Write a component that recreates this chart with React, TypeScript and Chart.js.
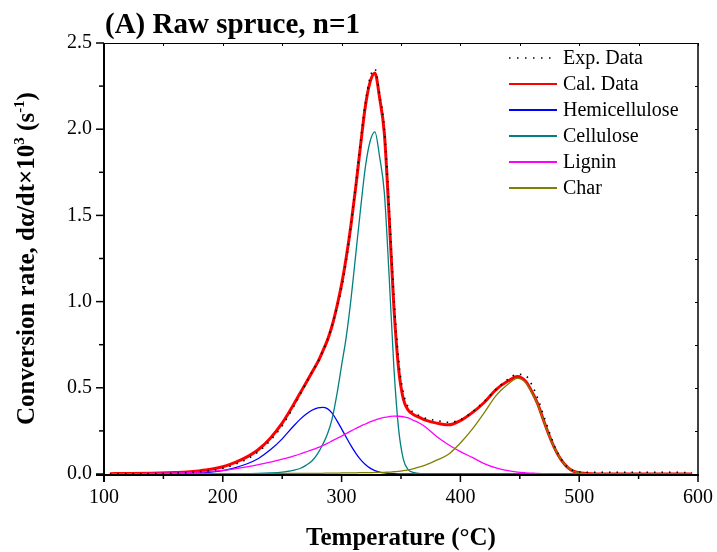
import React, { useEffect, useRef } from "react";
import { Chart, registerables } from "chart.js";

Chart.register(...registerables);

// ---------------- DATA ----------------
const temperature = [
  105, 120, 140, 160, 170, 180, 190, 200, 210, 220, 230, 240, 250, 255, 260, 265, 270, 275, 280, 284,
  288, 292, 296, 300, 304, 308, 312, 316, 320, 324, 328, 332, 336, 340, 344, 348, 352, 356, 360, 365,
  370, 380, 390, 400, 410, 420, 430, 440, 448, 455, 460, 465, 470, 475, 480, 485, 490, 495, 500, 510,
  520, 540, 560, 580, 595,
];

const expData = [
  0.0, 0.001, 0.002, 0.005, 0.008, 0.013, 0.02, 0.033, 0.055, 0.085, 0.13, 0.195, 0.28, 0.335, 0.395, 0.46, 0.525, 0.59, 0.65, 0.71,
  0.775, 0.86, 0.96, 1.08, 1.24, 1.45, 1.68, 1.93, 2.15, 2.3, 2.35, 2.2, 2.0, 1.55, 1.03, 0.66, 0.47, 0.39, 0.36, 0.34,
  0.325, 0.31, 0.3, 0.315, 0.36, 0.42, 0.49, 0.55, 0.578, 0.57, 0.52, 0.44, 0.34, 0.24, 0.15, 0.085, 0.04, 0.02, 0.012, 0.01,
  0.01, 0.01, 0.01, 0.01, 0.008,
];

const calData = [
  0.002, 0.003, 0.005, 0.009, 0.012, 0.018, 0.027, 0.042, 0.066, 0.098, 0.142, 0.208, 0.295, 0.35, 0.408, 0.468, 0.528, 0.589, 0.65, 0.71,
  0.775, 0.86, 0.97, 1.1, 1.26, 1.45, 1.67, 1.909, 2.133, 2.274, 2.326, 2.181, 1.974, 1.497, 0.97, 0.61, 0.434, 0.371, 0.347, 0.33,
  0.314, 0.295, 0.285, 0.31, 0.356, 0.415, 0.49, 0.539, 0.566, 0.537, 0.48, 0.408, 0.312, 0.219, 0.14, 0.08, 0.04, 0.017, 0.007, 0.001,
  0.0, 0.0, 0.0, 0.0, 0.0,
];

const hemicellulose = [
  0.0, 0.0, 0.001, 0.002, 0.003, 0.006, 0.011, 0.02, 0.036, 0.058, 0.09, 0.14, 0.204, 0.243, 0.281, 0.317, 0.347, 0.37, 0.384, 0.387,
  0.379, 0.353, 0.31, 0.262, 0.212, 0.163, 0.12, 0.083, 0.055, 0.034, 0.02, 0.011, 0.006, 0.003, 0.0015, 0.0005, 0.0, 0.0, 0.0, 0.0,
  0.0, 0.0, 0.0, 0.0, 0.0, 0.0, 0.0, 0.0, 0.0, 0.0, 0.0, 0.0, 0.0, 0.0, 0.0, 0.0, 0.0, 0.0, 0.0, 0.0,
  0.0, 0.0, 0.0, 0.0, 0.0,
];

const cellulose = [
  0.0, 0.0, 0.0, 0.0, 0.0, 0.0, 0.0, 0.0, 0.001, 0.002, 0.003, 0.006, 0.011, 0.016, 0.022, 0.032, 0.05, 0.075, 0.12, 0.17,
  0.23, 0.32, 0.46, 0.63, 0.8, 1.02, 1.28, 1.54, 1.78, 1.93, 1.985, 1.84, 1.63, 1.15, 0.62, 0.26, 0.085, 0.025, 0.01, 0.003,
  0.001, 0.0, 0.0, 0.0, 0.0, 0.0, 0.0, 0.0, 0.0, 0.0, 0.0, 0.0, 0.0, 0.0, 0.0, 0.0, 0.0, 0.0, 0.0, 0.0,
  0.0, 0.0, 0.0, 0.0, 0.0,
];

const lignin = [
  0.001, 0.002, 0.003, 0.006, 0.008, 0.011, 0.015, 0.021, 0.03, 0.041, 0.054, 0.069, 0.086, 0.095, 0.105, 0.116, 0.128, 0.14, 0.153, 0.165,
  0.178, 0.192, 0.206, 0.22, 0.235, 0.25, 0.264, 0.278, 0.29, 0.302, 0.312, 0.321, 0.328, 0.333, 0.336, 0.335, 0.332, 0.326, 0.313, 0.297,
  0.275, 0.218, 0.17, 0.13, 0.096, 0.06, 0.035, 0.019, 0.011, 0.007, 0.005, 0.003, 0.002, 0.001, 0.0, 0.0, 0.0, 0.0, 0.0, 0.0,
  0.0, 0.0, 0.0, 0.0, 0.0,
];

const charData = [
  0.0, 0.0, 0.001, 0.001, 0.001, 0.001, 0.001, 0.001, 0.002, 0.002, 0.002, 0.002, 0.003, 0.003, 0.003, 0.003, 0.003, 0.004, 0.004, 0.004,
  0.005, 0.005, 0.005, 0.006, 0.006, 0.007, 0.007, 0.008, 0.008, 0.008, 0.009, 0.009, 0.01, 0.011, 0.013, 0.015, 0.019, 0.024, 0.03, 0.04,
  0.05, 0.08, 0.115, 0.18, 0.26, 0.355, 0.455, 0.52, 0.555, 0.53, 0.475, 0.405, 0.31, 0.218, 0.14, 0.08, 0.04, 0.017, 0.007, 0.001,
  0.0, 0.0, 0.0, 0.0, 0.0,
];

const xMajorTicks = [100, 200, 300, 400, 500, 600];
const xMinorTicks = [150, 250, 350, 450, 550];
const yMajorTicks = [0, 0.5, 1.0, 1.5, 2.0, 2.5];
const yMinorTicks = [0.25, 0.75, 1.25, 1.75, 2.25];

const legendLabels = ["Exp. Data", "Cal. Data", "Hemicellulose", "Cellulose", "Lignin", "Char"];
const seriesColors = ["#000000", "#ff0000", "#0000ff", "#008080", "#ff00ff", "#808000"];

const titleText = "(A) Raw spruce, n=1";
const xTitleText = "Temperature (\u00B0C)";

const SERIF = "'Liberation Serif', 'Times New Roman', 'DejaVu Serif', serif";

// ---------------- DRAW HELPERS ----------------
type Part = { t: string; sup?: boolean };

function drawRich(ctx: CanvasRenderingContext2D, parts: Part[], size: number, supSize: number, supRise: number) {
  let w = 0;
  for (const p of parts) {
    ctx.font = `bold ${p.sup ? supSize : size}px ${SERIF}`;
    w += ctx.measureText(p.t).width;
  }
  let x = -w / 2;
  for (const p of parts) {
    ctx.font = `bold ${p.sup ? supSize : size}px ${SERIF}`;
    ctx.fillText(p.t, x, p.sup ? -supRise : 0);
    x += ctx.measureText(p.t).width;
  }
}

const decorPlugin = {
  id: "decor",
  afterDraw(chart: any) {
    const { ctx, chartArea: a, scales } = chart;
    const xs = scales.x;
    const ys = scales.y;
    ctx.save();
    ctx.strokeStyle = "#000";
    ctx.fillStyle = "#000";

    // top & right borders (thin)
    ctx.lineWidth = 1;
    ctx.beginPath();
    ctx.moveTo(a.left, a.top + 0.5);
    ctx.lineTo(a.right, a.top + 0.5);
    ctx.stroke();
    ctx.lineWidth = 1.5;
    ctx.beginPath();
    ctx.moveTo(a.right, a.top);
    ctx.lineTo(a.right, a.bottom);
    ctx.stroke();

    // inner ticks top/right
    ctx.lineWidth = 1;
    for (const v of [...xMajorTicks, ...xMinorTicks]) {
      const px = Math.round(xs.getPixelForValue(v)) + 0.5;
      ctx.beginPath();
      ctx.moveTo(px, a.top);
      ctx.lineTo(px, a.top + 3);
      ctx.stroke();
    }
    for (const v of [...yMajorTicks, ...yMinorTicks]) {
      const py = Math.round(ys.getPixelForValue(v)) + 0.5;
      ctx.beginPath();
      ctx.moveTo(a.right, py);
      ctx.lineTo(a.right - 3, py);
      ctx.stroke();
    }

    // left & bottom axes (thick)
    ctx.lineWidth = 2;
    ctx.beginPath();
    ctx.moveTo(a.left, a.top);
    ctx.lineTo(a.left, a.bottom + 8);
    ctx.stroke();
    ctx.beginPath();
    ctx.moveTo(a.left - 8, a.bottom + 1);
    ctx.lineTo(a.right + 1, a.bottom + 1);
    ctx.stroke();

    // outward ticks
    ctx.lineWidth = 1.5;
    for (const v of xMajorTicks) {
      const px = xs.getPixelForValue(v);
      ctx.beginPath();
      ctx.moveTo(px, a.bottom);
      ctx.lineTo(px, a.bottom + 8);
      ctx.stroke();
    }
    for (const v of xMinorTicks) {
      const px = xs.getPixelForValue(v);
      ctx.beginPath();
      ctx.moveTo(px, a.bottom);
      ctx.lineTo(px, a.bottom + 5);
      ctx.stroke();
    }
    for (const v of yMajorTicks) {
      const py = ys.getPixelForValue(v);
      ctx.beginPath();
      ctx.moveTo(a.left, py);
      ctx.lineTo(a.left - 8, py);
      ctx.stroke();
    }
    for (const v of yMinorTicks) {
      const py = ys.getPixelForValue(v);
      ctx.beginPath();
      ctx.moveTo(a.left, py);
      ctx.lineTo(a.left - 5, py);
      ctx.stroke();
    }

    // title
    ctx.font = `bold 29px ${SERIF}`;
    ctx.textAlign = "left";
    ctx.textBaseline = "alphabetic";
    ctx.fillText(titleText, 105, 33);

    // x title
    ctx.font = `bold 25px ${SERIF}`;
    ctx.textAlign = "center";
    ctx.fillText(xTitleText, 401, 545);

    // y title
    ctx.save();
    ctx.translate(34, (a.top + a.bottom) / 2);
    ctx.rotate(-Math.PI / 2);
    ctx.textAlign = "left";
    drawRich(
      ctx,
      [
        { t: "Conversion rate, d\u03B1/dt\u00D710" },
        { t: "3", sup: true },
        { t: " (s" },
        { t: "-1", sup: true },
        { t: ")" },
      ],
      25,
      15,
      10
    );
    ctx.restore();

    // legend
    ctx.font = `20px ${SERIF}`;
    ctx.textAlign = "left";
    ctx.textBaseline = "middle";
    legendLabels.forEach((label, i) => {
      const ly = 58 + i * 26;
      ctx.strokeStyle = seriesColors[i];
      ctx.lineWidth = i === 0 ? 1.5 : 2;
      ctx.setLineDash(i === 0 ? [1.5, 6.5] : []);
      ctx.beginPath();
      ctx.moveTo(509, ly);
      ctx.lineTo(557, ly);
      ctx.stroke();
      ctx.setLineDash([]);
      ctx.fillStyle = "#000";
      ctx.fillText(label, 563, ly + 1);
    });

    ctx.restore();
  },
};

export default function App() {
  const ref = useRef<HTMLCanvasElement>(null);

  useEffect(() => {
    if (!ref.current) return;
    const pts = (ys: number[]) => temperature.map((t, i) => ({ x: t, y: ys[i] }));
    const base = {
      pointRadius: 0,
      fill: false,
      cubicInterpolationMode: "monotone" as const,
    };
    const chart = new Chart(ref.current, {
      type: "line",
      data: {
        datasets: [
          { ...base, label: legendLabels[0], data: pts(expData), borderColor: seriesColors[0], borderWidth: 1.6, borderDash: [1.5, 6] },
          { ...base, label: legendLabels[5], data: pts(charData), borderColor: seriesColors[5], borderWidth: 1.3 },
          { ...base, label: legendLabels[4], data: pts(lignin), borderColor: seriesColors[4], borderWidth: 1.3 },
          { ...base, label: legendLabels[3], data: pts(cellulose), borderColor: seriesColors[3], borderWidth: 1.3 },
          { ...base, label: legendLabels[2], data: pts(hemicellulose), borderColor: seriesColors[2], borderWidth: 1.3 },
          { ...base, label: legendLabels[1], data: pts(calData), borderColor: seriesColors[1], borderWidth: 3 },
        ],
      },
      options: {
        responsive: false,
        animation: false,
        layout: { padding: { left: 0, right: 19, top: 43, bottom: 0 } },
        plugins: { legend: { display: false }, tooltip: { enabled: false }, title: { display: false } },
        scales: {
          x: {
            type: "linear",
            min: 100,
            max: 600,
            ticks: {
              stepSize: 100,
              color: "#000",
              font: { family: SERIF, size: 20 },
              padding: 12,
              maxRotation: 0,
            },
            grid: { display: false, drawTicks: false },
            border: { display: false },
            afterFit: (s: any) => {
              s.height = 78;
              s.paddingLeft = 0;
              s.paddingRight = 0;
            },
          },
          y: {
            type: "linear",
            min: 0,
            max: 2.5,
            ticks: {
              stepSize: 0.5,
              color: "#000",
              font: { family: SERIF, size: 20 },
              padding: 12,
              callback: (v: any) => Number(v).toFixed(1),
            },
            grid: { display: false, drawTicks: false },
            border: { display: false },
            afterFit: (s: any) => {
              s.width = 104;
              s.paddingTop = 0;
              s.paddingBottom = 0;
            },
          },
        },
      },
      plugins: [decorPlugin],
    });
    return () => chart.destroy();
  }, []);

  return (
    <div style={{ position: "fixed", left: 0, top: 0, background: "#fff" }}>
      <canvas ref={ref} width={717} height={552} style={{ display: "block" }} />
    </div>
  );
}
